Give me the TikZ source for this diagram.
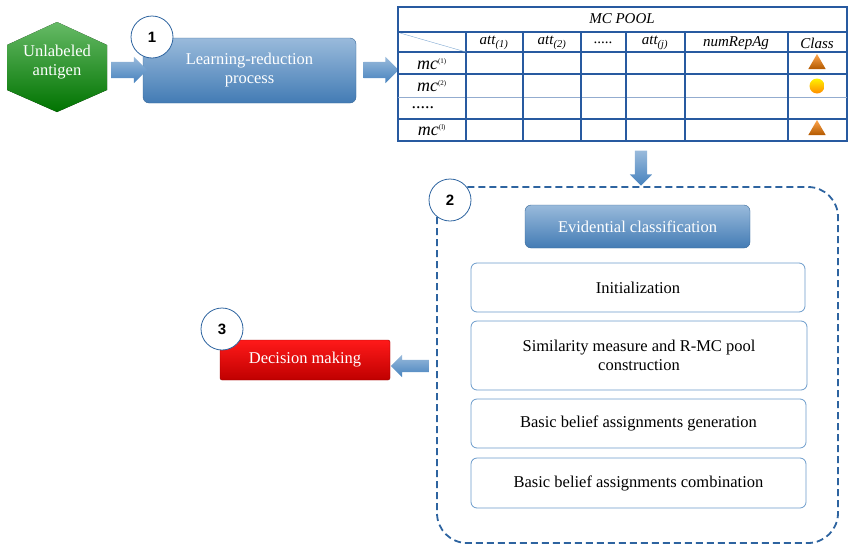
\documentclass[tikz,border=0pt]{standalone}
\usepackage{fontspec}
\setmainfont{Liberation Serif}
\setsansfont{Liberation Sans}
\usetikzlibrary{shapes.arrows,shapes.geometric}
\definecolor{boxblue}{RGB}{70,130,190}
\definecolor{lineblue}{RGB}{46,100,160}
\definecolor{tblblue}{RGB}{40,90,160}
\tikzset{
  bluebox/.style={draw=boxblue!80!black,rounded corners=6pt,top color=boxblue!55,bottom color=boxblue!95!black,text=white,align=center,inner sep=0pt},
  whitebox/.style={draw=boxblue!80,rounded corners=6pt,fill=white,thick,align=center,inner sep=0pt},
  num/.style={circle,draw=lineblue,thick,fill=white,minimum size=42pt,font=\sffamily\bfseries\fontsize{15}{15}\selectfont},
  bigarrow/.style={single arrow,draw=none,top color=boxblue!55,bottom color=boxblue,single arrow head extend=5pt,inner sep=8pt},
}
\begin{document}
\begin{tikzpicture}[x=1pt,y=-1pt,font=\fontsize{16.5}{19}\selectfont]
    \useasboundingbox (0,0) rectangle (854,552);
    % step 1
    \fill[top color=green!55!black!60,bottom color=green!45!black]
        (57,22) -- (107,45) -- (107,90) -- (57,112) -- (7,90) -- (7,45) -- cycle;
    \node[text=white,align=center,inner sep=0pt] (antigen) at (57,62) {Unlabeled\\antigen};
    \node[bluebox,minimum width=213pt,minimum height=65pt] (learn) at (249.5,70.5) {Learning-reduction\\process};
    \node[bigarrow,minimum height=36pt] (a1) at (125,70) {};
    \node[num] (n1) at (152,37) {1};
    \node[bigarrow,minimum height=35pt] (a2) at (377,70) {};
    % table
    \begin{scope}[draw=tblblue,line width=1.4pt]
    \draw (398,7) rectangle (847,141);
    \foreach \y in {32,52,74,119} \draw (398,\y) -- (847,\y);
    \draw[thin,draw=tblblue!50] (398,97) -- (847,97);
    \foreach \x in {466,523,581,626,685,788} \draw (\x,32) -- (\x,141);
    \draw[thin,draw=boxblue!70] (400,33) -- (466,52);
    \end{scope}
    \node[font=\itshape\fontsize{15}{15}\selectfont] (pool) at (622,19) {MC POOL};
    \begin{scope}[font=\itshape\fontsize{15}{15}\selectfont]
    \node (c1) at (494,43) {att\textsubscript{(1)}};
    \node (c2) at (552,43) {att\textsubscript{(2)}};
    \node (c3) at (603,43) {\upshape .....};
    \node (c4) at (655,43) {att\textsubscript{(j)}};
    \node (c5) at (736,43) {numRepAg};
    \node (c6) at (817,43) {Class};
    \end{scope}
    \begin{scope}[font=\itshape\fontsize{18}{18}\selectfont]
    \node (r1) at (432,64) {mc\textsuperscript{\upshape\scriptsize(1)}};
    \node (r2) at (432,86) {mc\textsuperscript{\upshape\scriptsize(2)}};
    \node[anchor=west] (r3) at (408,108) {\upshape .....};
    \node (r4) at (432,130) {mc\textsuperscript{\upshape\scriptsize(l)}};
    \end{scope}
    \node[isosceles triangle,isosceles triangle apex angle=60,shape border rotate=90,minimum size=15pt,inner sep=0pt,
          top color=orange!70,bottom color=orange!70!black,draw=none] (t1) at (817,64) {};
    \node[circle,minimum size=15pt,inner sep=0pt,top color=yellow!90!orange,bottom color=orange!90!yellow,draw=none] (t2) at (817,86) {};
    \node[isosceles triangle,isosceles triangle apex angle=60,shape border rotate=90,minimum size=15pt,inner sep=0pt,
          top color=orange!70,bottom color=orange!70!black,draw=none] (t3) at (817,130) {};
    \node[bigarrow,minimum height=35pt,shape border rotate=270,inner sep=6pt] (a3) at (641,165) {};
    % step 2
    \draw[lineblue,line width=1.8pt,dash pattern=on 7pt off 4pt,rounded corners=30pt] (437,187) rectangle (838,543);
    \node[num] (n2) at (450,200) {2};
    \node[bluebox,minimum width=225pt,minimum height=43pt] (evid) at (637.5,226.5) {Evidential classification};
    \node[whitebox,minimum width=334pt,minimum height=49pt] (init) at (638,287.5) {Initialization};
    \node[whitebox,minimum width=336pt,minimum height=69pt] (sim) at (639,355.5) {Similarity measure and R-MC pool\\construction};
    \node[whitebox,minimum width=335pt,minimum height=49pt] (gen) at (638.5,423.5) {Basic belief assignments generation};
    \node[whitebox,minimum width=335pt,minimum height=50pt] (comb) at (638.5,483) {Basic belief assignments combination};
    % step 3
    \node[bigarrow,minimum height=38pt,shape border rotate=180,inner sep=6pt] (a4) at (413,366) {};
    \node[draw=red!60!black,rounded corners=2pt,top color=red!90,bottom color=red!75!black,text=white,minimum width=170pt,minimum height=40pt,inner sep=0pt] (dec) at (305,360) {Decision making};
    \node[num] (n3) at (222,329) {3};
\end{tikzpicture}
\end{document}
